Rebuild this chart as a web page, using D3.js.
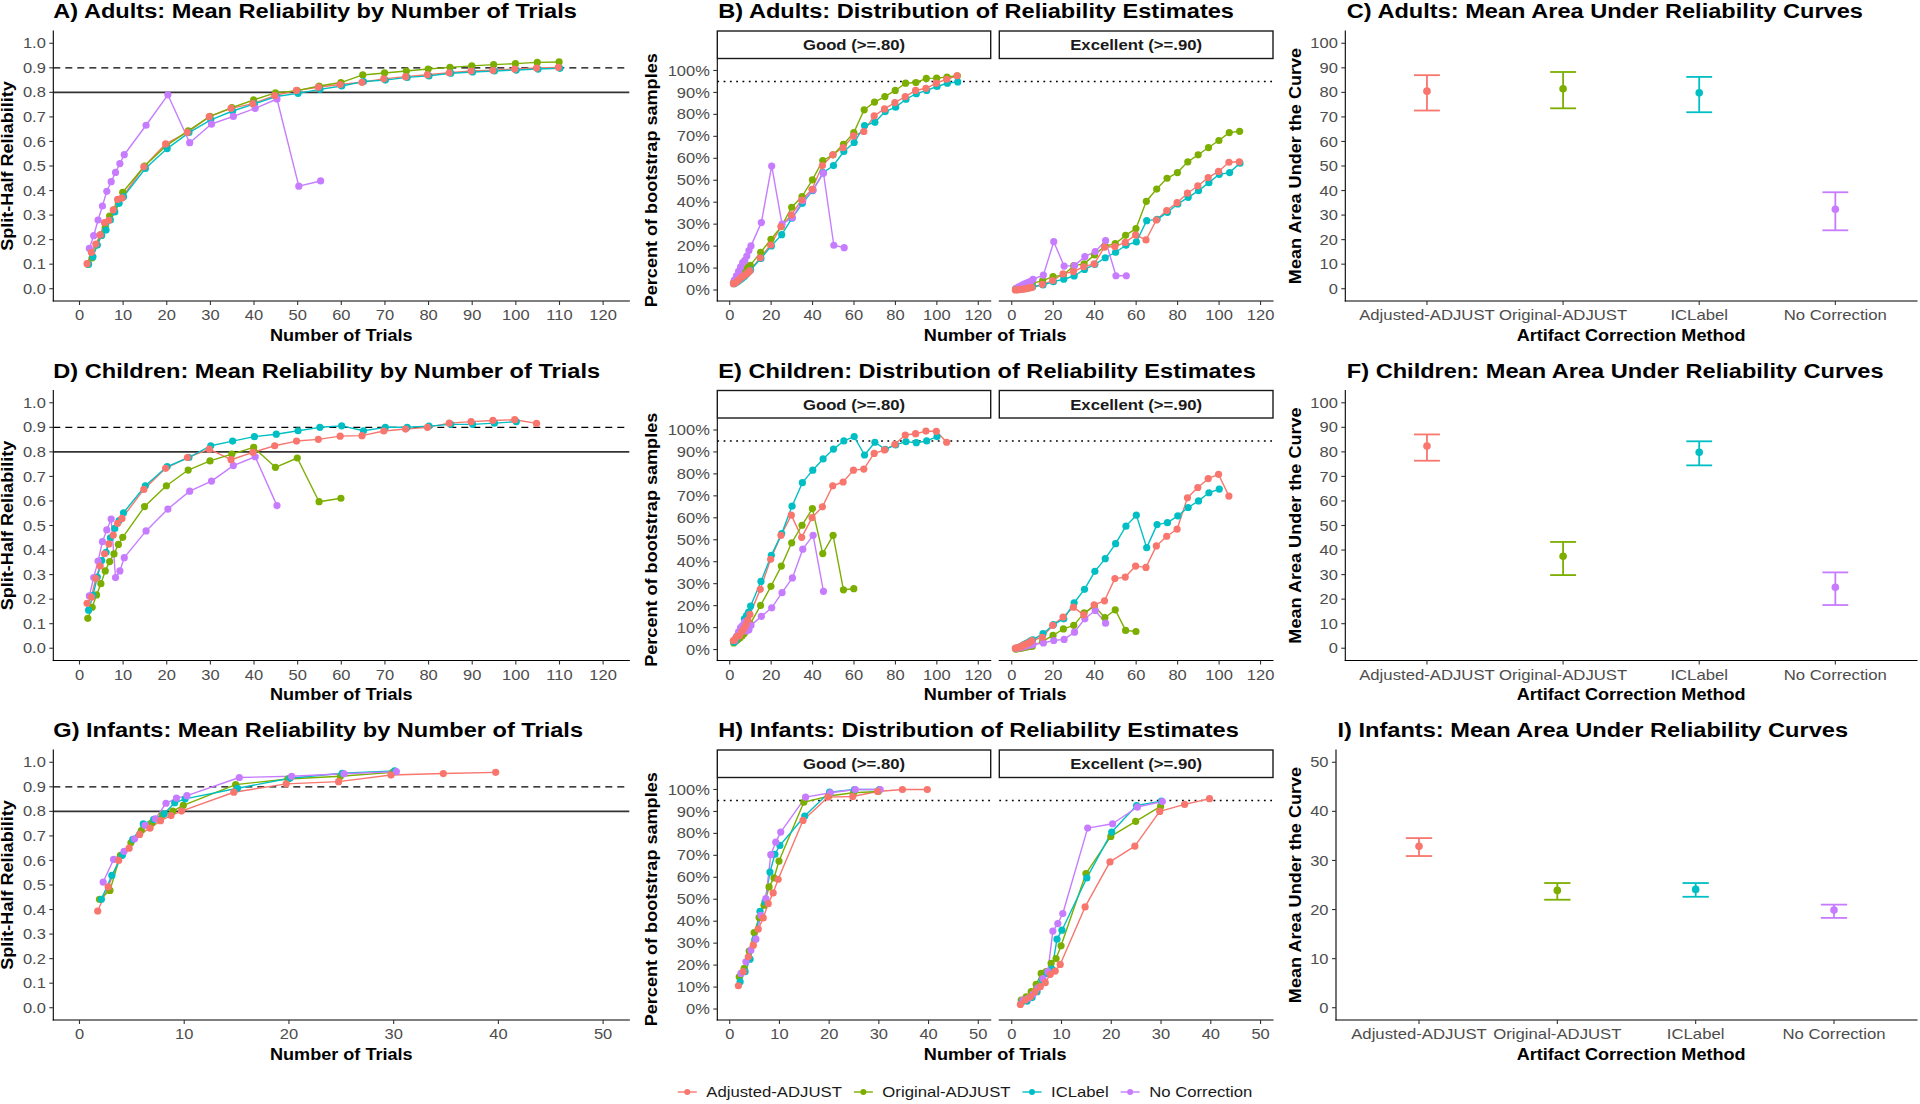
<!DOCTYPE html>
<html><head><meta charset="utf-8">
<script src="https://cdn.jsdelivr.net/npm/d3@7"></script>
<style>body{margin:0;background:#fff} svg{display:block}</style>
</head><body>
<svg id="chart" width="1920" height="1104"></svg>
<script>
// ---------------- DATA ----------------
const methods = ["Adjusted-ADJUST", "Original-ADJUST", "ICLabel", "No Correction"];
const methodColors = ["#F8766D", "#7CAE00", "#00BFC4", "#C77CFF"];

const trialsAdults   = [2,3,4,5,6,7,8,9,10,15,20,25,30,35,40,45,50,55,60,65,70,75,80,85,90,95,100,105,110];
const trialsChildren = [2,3,4,5,6,7,8,9,10,15,20,25,30,35,40,45,50,55,60,65,70,75,80,85,90,95,100,105];
const trialsInfants  = [2,3,4,5,6,7,8,9,10,15,20,25,30,35,40];

// Adults: mean split-half reliability
const adultRelAdjusted = [0.102,0.148,0.182,0.219,0.269,0.279,0.321,0.364,0.370,0.497,0.590,0.637,0.701,0.735,0.754,0.787,0.808,0.821,0.832,0.841,0.855,0.864,0.872,0.880,0.887,0.890,0.895,0.899,0.902];
const adultRelOriginal = [0.100,0.126,0.180,0.219,0.249,0.296,0.321,0.350,0.393,0.500,0.583,0.643,0.702,0.738,0.769,0.798,0.807,0.826,0.840,0.871,0.879,0.887,0.895,0.902,0.908,0.913,0.917,0.922,0.924];
const adultRelICLabel  = [0.100,0.130,0.178,0.217,0.239,0.280,0.313,0.348,0.375,0.490,0.571,0.636,0.688,0.724,0.753,0.783,0.796,0.812,0.826,0.844,0.850,0.861,0.867,0.878,0.883,0.887,0.891,0.895,0.898];
const adultRelNoCorr   = [0.164,0.216,0.280,0.337,0.397,0.436,0.474,0.510,0.546,0.666,0.790,0.595,0.671,0.702,0.735,0.773,0.418,0.439];
// Adults: percent of bootstrap samples >= .80
const adultGoodAdjusted = [2.9,3.3,4.1,4.9,5.8,6.4,7.1,7.9,8.8,14.7,20.5,28.9,34.2,41.0,45.9,56.7,61.6,64.9,70.2,72.2,79.3,82.5,85.4,88.1,90.9,91.9,94.2,96.0,97.6];
const adultGoodOriginal = [3.5,4.5,5.5,6.5,7.5,8.5,9.5,10.5,11.2,17.2,23.1,28.9,37.7,42.6,50.2,59.0,61.6,66.4,71.7,82.1,85.6,88.1,90.9,94.2,94.5,96.4,96.5,97.0,97.6];
const adultGoodICLabel  = [2.9,3.4,4.0,4.7,5.5,6.2,7.2,8.2,9.1,14.4,20.1,25.2,32.7,39.5,45.3,53.5,56.7,63.1,67.2,74.9,76.4,81.3,83.3,86.9,89.4,90.9,92.7,94.2,94.8];
const adultGoodNoCorr   = [4.5,6.5,8.5,10.5,12.5,13.5,15.5,18.0,20.1,30.7,56.5,30.0,33.0,40.7,45.6,53.2,20.4,19.3];
// Adults: percent of bootstrap samples >= .90
const adultExcAdjusted = [0.0,0.1,0.2,0.3,0.4,0.6,0.8,1.0,1.2,2.6,4.3,7.4,8.4,10.6,11.9,19.5,19.8,21.7,25.1,22.8,31.9,36.2,39.8,44.1,47.4,51.2,54.0,58.2,58.4];
const adultExcOriginal = [0.6,0.8,1.0,1.3,1.6,2.0,2.3,2.7,3.0,4.3,6.1,6.8,11.1,11.9,16.0,20.0,21.1,24.9,28.0,40.4,46.0,50.9,53.5,58.4,61.6,64.9,68.1,71.7,72.3];
const adultExcICLabel  = [0.3,0.4,0.5,0.6,0.7,0.9,1.1,1.3,1.5,2.3,3.8,4.9,6.4,9.4,11.7,14.7,17.2,20.4,21.9,31.6,32.2,35.4,39.2,42.2,45.3,48.9,52.7,53.5,57.8];
const adultExcNoCorr   = [0.8,1.3,1.8,2.3,2.8,3.2,3.6,4.0,4.9,6.8,22.0,10.9,11.1,15.2,17.5,22.5,6.5,6.5];

// Children
const childRelAdjusted = [0.183,0.208,0.285,0.335,0.385,0.425,0.461,0.509,0.529,0.647,0.733,0.777,0.811,0.768,0.798,0.825,0.844,0.851,0.864,0.866,0.885,0.893,0.900,0.917,0.923,0.928,0.931,0.916];
const childRelOriginal = [0.122,0.167,0.217,0.263,0.315,0.353,0.384,0.423,0.452,0.577,0.662,0.726,0.763,0.791,0.818,0.737,0.775,0.597,0.611];
const childRelICLabel  = [0.155,0.215,0.290,0.357,0.391,0.450,0.488,0.520,0.552,0.662,0.740,0.777,0.825,0.844,0.862,0.872,0.886,0.900,0.906,0.886,0.900,0.900,0.905,0.912,0.912,0.917,0.923];
const childRelNoCorr   = [0.213,0.288,0.355,0.434,0.482,0.526,0.288,0.315,0.369,0.478,0.567,0.640,0.681,0.744,0.780,0.581];
const childGoodAdjusted = [4.1,5.0,6.0,6.4,8.0,9.4,11.0,13.5,16.0,27.4,41.1,52.0,61.2,51.1,60.1,65.0,74.6,76.3,81.7,82.2,89.3,90.9,93.5,97.7,98.3,99.5,99.4,94.4];
const childGoodOriginal = [3.0,3.8,4.6,5.2,6.2,7.2,8.5,10.0,11.7,20.1,28.8,38.0,48.6,56.6,64.2,43.7,52.0,27.2,27.7];
const childGoodICLabel  = [3.3,4.5,6.0,7.9,10.0,14.0,15.5,17.0,19.8,31.0,42.9,52.8,65.3,76.0,81.7,86.8,91.3,95.0,97.0,88.6,94.4,91.2,93.2,94.7,94.2,95.0,97.0];
const childGoodNoCorr   = [4.1,6.0,8.0,10.0,11.0,12.5,8.5,9.0,11.0,15.1,19.0,25.9,32.6,45.7,52.0,26.5];
const childExcAdjusted = [0.6,0.8,1.1,1.5,2.0,2.4,2.8,3.3,4.1,5.6,11.0,14.8,19.3,15.8,20.4,22.2,32.3,33.0,38.0,37.4,47.2,51.6,54.8,69.1,73.8,77.8,79.8,69.9];
const childExcOriginal = [0.2,0.3,0.5,0.7,0.9,1.1,1.3,1.5,1.5,3.7,6.4,9.4,11.0,16.7,19.8,14.5,18.1,8.7,8.2];
const childExcICLabel  = [0.5,0.8,1.2,1.8,2.3,2.8,3.3,3.9,4.4,7.2,11.3,14.0,21.3,27.4,35.6,41.4,48.2,56.2,61.2,46.4,56.9,57.8,60.9,64.7,67.7,71.4,73.1];
const childExcNoCorr   = [0.5,0.7,0.9,1.2,1.5,1.8,2.0,2.1,2.4,3.0,4.1,4.6,7.9,14.0,17.8,12.0];

// Infants
const infantRelAdjusted = [0.394,0.492,0.600,0.650,0.706,0.732,0.762,0.783,0.801,0.878,0.912,0.921,0.948,0.954,0.959];
const infantRelOriginal = [0.442,0.478,0.621,0.672,0.722,0.753,0.786,0.801,0.824,0.909,0.932,0.943,0.959];
const infantRelICLabel  = [0.442,0.539,0.621,0.686,0.749,0.767,0.790,0.835,0.851,0.894,0.935,0.955,0.965];
const infantRelNoCorr   = [0.512,0.604,0.637,0.688,0.743,0.770,0.833,0.854,0.864,0.938,0.943,0.953,0.962];
const infantGoodAdjusted = [10.6,17.0,23.8,29.1,36.4,41.5,48.0,52.9,59.1,85.9,96.5,96.8,99.1,100,100];
const infantGoodOriginal = [14.7,18.5,26.4,34.8,41.7,47.3,55.6,59.7,67.4,94.2,97.0,98.5,99.1];
const infantGoodICLabel  = [12.4,17.0,22.7,31.8,44.5,48.8,62.4,70.5,74.5,87.9,98.8,100,100];
const infantGoodNoCorr   = [16.2,21.5,26.8,31.8,42.7,50.3,70.3,76.0,80.6,96.5,98.5,100,100];
const infantExcAdjusted = [2.1,4.1,5.6,7.9,10.2,12.0,15.8,17.3,20.3,46.5,67.0,74.2,90.0,93.2,95.8];
const infantExcOriginal = [4.1,5.6,7.9,11.2,16.2,17.0,20.8,23.0,28.8,61.7,78.6,85.5,92.3];
const infantExcICLabel  = [3.3,3.6,5.2,7.9,13.2,16.2,18.2,31.8,35.9,59.7,80.6,92.7,94.7];
const infantExcNoCorr   = [4.1,4.8,6.7,9.7,13.9,17.0,35.5,38.9,43.5,82.4,84.4,92.0,94.5];

// Mean area under reliability curves (mean, lower, upper)
const adultAucMean  = [80.5, 81.5, 79.8, 32.4];
const adultAucLow   = [72.6, 73.5, 71.9, 23.8];
const adultAucHigh  = [87.0, 88.3, 86.3, 39.3];
const childAucMean  = [82.4, 37.5, 79.8, 24.8];
const childAucLow   = [76.4, 29.8, 74.5, 17.6];
const childAucHigh  = [87.1, 43.3, 84.3, 30.9];
const infantAucMean = [32.9, 23.9, 24.1, 19.9];
const infantAucLow  = [30.9, 22.0, 22.6, 18.3];
const infantAucHigh = [34.55, 25.4, 25.4, 21.0];

// Tick labels
const relTicks      = [0,0.1,0.2,0.3,0.4,0.5,0.6,0.7,0.8,0.9,1.0];
const pctTicks      = [0,10,20,30,40,50,60,70,80,90,100];
const trialTicks120 = [0,10,20,30,40,50,60,70,80,90,100,110,120];
const facetTicks120 = [0,20,40,60,80,100,120];
const trialTicks50  = [0,10,20,30,40,50];
const aucTicks100   = [0,10,20,30,40,50,60,70,80,90,100];
const aucTicks50    = [0,10,20,30,40,50];

const titlesLine  = ["A) Adults: Mean Reliability by Number of Trials", "D) Children: Mean Reliability by Number of Trials", "G) Infants: Mean Reliability by Number of Trials"];
const titlesFacet = ["B) Adults: Distribution of Reliability Estimates", "E) Children: Distribution of Reliability Estimates", "H) Infants: Distribution of Reliability Estimates"];
const titlesAuc   = ["C) Adults: Mean Area Under Reliability Curves", "F) Children: Mean Area Under Reliability Curves", "I) Infants: Mean Area Under Reliability Curves"];
const stripLabels = ["Good  (>=.80)", "Excellent  (>=.90)"];

// ---------------- DRAWING ----------------
const FONT = "'Liberation Sans', Arial, Helvetica, sans-serif";
const SX = 1.13;          // horizontal glyph widening seen in the reference
const DODGE = [-0.26, -0.09, 0.09, 0.26];
const svg = d3.select("#chart");
svg.append("rect").attr("width", 1920).attr("height", 1104).attr("fill", "#fff");

function label(g, x, y, str, o = {}) {
  return g.append("text")
    .attr("transform", `translate(${x},${y})` + (o.rotate ? ` rotate(${o.rotate})` : "") + ` scale(${SX},1)`)
    .attr("text-anchor", o.anchor || "start")
    .attr("font-family", FONT)
    .attr("font-size", o.size || 14.6)
    .attr("font-weight", o.weight || "normal")
    .attr("fill", o.fill || "#4D4D4D")
    .text(str);
}
function seg(g, x1, y1, x2, y2, color, w, dash) {
  const l = g.append("line").attr("x1", x1).attr("y1", y1).attr("x2", x2).attr("y2", y2)
    .attr("stroke", color).attr("stroke-width", w);
  if (dash) l.attr("stroke-dasharray", dash);
  return l;
}
function yAxis(g, ys, x, ticks, fmt) {
  const [yb, yt] = ys.range();
  seg(g, x, yt, x, yb, "#000", 1.1).attr("stroke-linecap", "square");
  ticks.forEach(v => {
    const y = ys(v);
    seg(g, x - 4, y, x, y, "#333", 1.1);
    label(g, x - 7.5, y + 5.1, fmt(v), { anchor: "end" });
  });
}
function xAxis(g, xs, y, ticks, fmt) {
  const r = xs.range();
  seg(g, r[0], y, r[r.length - 1], y, "#000", 1.1).attr("stroke-linecap", "square");
  ticks.forEach(v => {
    const x = xs(v);
    seg(g, x, y, x, y + 4, "#333", 1.1);
    label(g, x, y + 19, fmt(v), { anchor: "middle" });
  });
}
function drawSeries(g, xs, ys, series) {
  const line = d3.line().x(d => xs(d[0])).y(d => ys(d[1]));
  series.forEach(s => {
    g.append("path").datum(s.pts).attr("d", line).attr("fill", "none")
      .attr("stroke", s.color).attr("stroke-width", 1.4).attr("stroke-linejoin", "round");
  });
  [1, 2, 3, 0].forEach(i => {
    const s = series[i];
    g.selectAll(null).data(s.pts).enter().append("circle")
      .attr("cx", d => xs(d[0])).attr("cy", d => ys(d[1])).attr("r", 3.6).attr("fill", s.color);
  });
}
function makeSeries(trials, arrays) {
  return arrays.map((vals, m) => ({
    color: methodColors[m],
    pts: vals.map((v, i) => [trials[i] + DODGE[m], v])
  }));
}

const rows = [
  { rel: [adultRelAdjusted, adultRelOriginal, adultRelICLabel, adultRelNoCorr],
    good: [adultGoodAdjusted, adultGoodOriginal, adultGoodICLabel, adultGoodNoCorr],
    exc: [adultExcAdjusted, adultExcOriginal, adultExcICLabel, adultExcNoCorr],
    trials: trialsAdults, xmax: 120, lineTicks: trialTicks120, facTicks: facetTicks120,
    auc: [adultAucMean, adultAucLow, adultAucHigh], aucMax: 100, aucTicks: aucTicks100, aucX0: 1345.3 },
  { rel: [childRelAdjusted, childRelOriginal, childRelICLabel, childRelNoCorr],
    good: [childGoodAdjusted, childGoodOriginal, childGoodICLabel, childGoodNoCorr],
    exc: [childExcAdjusted, childExcOriginal, childExcICLabel, childExcNoCorr],
    trials: trialsChildren, xmax: 120, lineTicks: trialTicks120, facTicks: facetTicks120,
    auc: [childAucMean, childAucLow, childAucHigh], aucMax: 100, aucTicks: aucTicks100, aucX0: 1345.3 },
  { rel: [infantRelAdjusted, infantRelOriginal, infantRelICLabel, infantRelNoCorr],
    good: [infantGoodAdjusted, infantGoodOriginal, infantGoodICLabel, infantGoodNoCorr],
    exc: [infantExcAdjusted, infantExcOriginal, infantExcICLabel, infantExcNoCorr],
    trials: trialsInfants, xmax: 50, lineTicks: trialTicks50, facTicks: trialTicks50,
    auc: [infantAucMean, infantAucLow, infantAucHigh], aucMax: 50, aucTicks: aucTicks50, aucX0: 1336 }
];

const ROW_DY = 359.5;
const intFmt = v => String(v);

rows.forEach((row, r) => {
  const dy = r * ROW_DY;
  const g = svg.append("g");
  const top = 31 + dy, bottom = 301 + dy;
  const pad = row.xmax * 0.05;
  const xdom = [-pad, row.xmax + pad];

  // ---- Panel 1: mean reliability lines ----
  const xL = d3.scaleLinear().domain(xdom).range([53.3, 629.3]);
  const yL = d3.scaleLinear().domain([-0.05, 1.05]).range([bottom, top]);
  seg(g, 53.3, yL(0.9), 629.3, yL(0.9), "#000", 1.2, "7,5");
  seg(g, 53.3, yL(0.8), 629.3, yL(0.8), "#333", 1.6);
  drawSeries(g, xL, yL, makeSeries(row.trials, row.rel));
  yAxis(g, yL, 53.3, relTicks, v => v.toFixed(1));
  xAxis(g, xL, bottom, row.lineTicks, intFmt);
  label(g, 53.3, 18.3 + dy, titlesLine[r], { size: 20.9, weight: "bold", fill: "#000" });
  label(g, 341.3, bottom + 39.7, "Number of Trials", { anchor: "middle", size: 16, weight: "bold", fill: "#000" });
  label(g, 13.3, (top + bottom) / 2, "Split-Half Reliability", { anchor: "middle", size: 16, weight: "bold", fill: "#000", rotate: -90 });

  // ---- Panel 2: faceted distribution ----
  const facTop = 59.5 + dy;
  const yF = d3.scaleLinear().domain([-5, 105]).range([bottom, facTop]);
  const facets = [
    { range: [717.3, 990.7], data: row.good },
    { range: [999.3, 1273], data: row.exc }
  ];
  facets.forEach((f, k) => {
    const xF = d3.scaleLinear().domain(xdom).range(f.range);
    g.append("rect").attr("x", f.range[0]).attr("y", 31 + dy)
      .attr("width", f.range[1] - f.range[0]).attr("height", 27.5)
      .attr("fill", "#fff").attr("stroke", "#1a1a1a").attr("stroke-width", 1.4);
    label(g, (f.range[0] + f.range[1]) / 2, 50.2 + dy, stripLabels[k], { anchor: "middle", size: 14.8, weight: "bold", fill: "#1a1a1a" });
    seg(g, f.range[0], yF(95), f.range[1], yF(95), "#000", 1.4, "1.8,4.5");
    drawSeries(g, xF, yF, makeSeries(row.trials, f.data));
    xAxis(g, xF, bottom, row.facTicks, intFmt);
    if (k === 0) yAxis(g, yF, f.range[0], pctTicks, v => v + "%");
  });
  label(g, 718.3, 18.3 + dy, titlesFacet[r], { size: 20.9, weight: "bold", fill: "#000" });
  label(g, (717.3 + 1273) / 2, bottom + 39.7, "Number of Trials", { anchor: "middle", size: 16, weight: "bold", fill: "#000" });
  label(g, 656.5, (facTop + bottom) / 2, "Percent of bootstrap samples", { anchor: "middle", size: 16, weight: "bold", fill: "#000", rotate: -90 });

  // ---- Panel 3: area under the curve ----
  const x0 = row.aucX0, x1 = 1917;
  const xA = d3.scalePoint().domain(methods).range([x0, x1]).padding(0.6);
  const padA = row.aucMax * 0.05;
  const yA = d3.scaleLinear().domain([-padA, row.aucMax + padA]).range([bottom, top]);
  const capW = xA.step() * 0.19;
  const [means, lows, highs] = row.auc;
  methods.forEach((m, i) => {
    const cx = xA(m), col = methodColors[i];
    seg(g, cx, yA(lows[i]), cx, yA(highs[i]), col, 1.8);
    seg(g, cx - capW / 2, yA(highs[i]), cx + capW / 2, yA(highs[i]), col, 1.8);
    seg(g, cx - capW / 2, yA(lows[i]), cx + capW / 2, yA(lows[i]), col, 1.8);
    g.append("circle").attr("cx", cx).attr("cy", yA(means[i])).attr("r", 3.8).attr("fill", col);
  });
  yAxis(g, yA, x0, row.aucTicks, intFmt);
  seg(g, x0, bottom, x1, bottom, "#000", 1.1).attr("stroke-linecap", "square");
  methods.forEach(m => {
    seg(g, xA(m), bottom, xA(m), bottom + 4, "#333", 1.1);
    label(g, xA(m), bottom + 19, m, { anchor: "middle", size: 14.8 });
  });
  label(g, x0 + 1.5, 18.3 + dy, titlesAuc[r], { size: 20.9, weight: "bold", fill: "#000" });
  label(g, (1345.3 + 1917) / 2, bottom + 39.7, "Artifact Correction Method", { anchor: "middle", size: 16, weight: "bold", fill: "#000" });
  label(g, 1300.5, (top + bottom) / 2, "Mean Area Under the Curve", { anchor: "middle", size: 16, weight: "bold", fill: "#000", rotate: -90 });
});

// ---- Legend ----
const lg = svg.append("g");
const ly = 1092;
const items = methods.map((m, i) => {
  const t = label(lg, 0, ly + 5.2, m, { size: 14.8, fill: "#1a1a1a" });
  return { t, w: t.node().getComputedTextLength() * SX, color: methodColors[i] };
});
const KEY = 19, GAP = 9.5, SEP = 12;
const total = d3.sum(items, d => KEY + GAP + d.w) + SEP * (items.length - 1);
let cx = 965 - total / 2;
items.forEach(it => {
  seg(lg, cx, ly, cx + KEY, ly, it.color, 1.4);
  lg.append("circle").attr("cx", cx + KEY / 2).attr("cy", ly).attr("r", 3).attr("fill", it.color);
  it.t.attr("transform", `translate(${cx + KEY + GAP},${ly + 5.2}) scale(${SX},1)`);
  cx += KEY + GAP + it.w + SEP;
});
</script>
</body></html>
